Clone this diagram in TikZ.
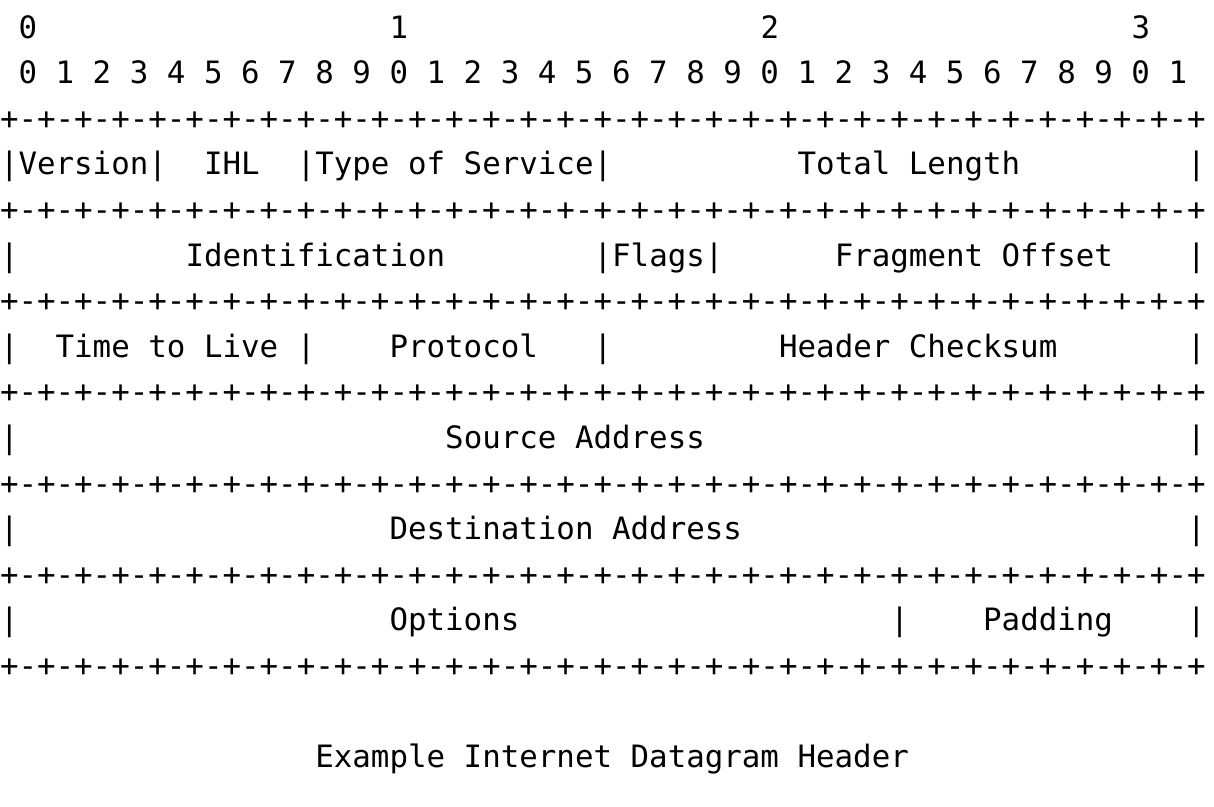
\documentclass[tikz,border=0pt]{standalone}
\usepackage{fontspec}
\setmonofont{DejaVu Sans Mono}[WordSpace={1,0,0}]
% one character cell is 18.55pt wide, text rows are 45.6pt apart
\newcommand\hdrcell[4]{\node[ascii] (#1) at ({#2*18.55},{-38-45.6*#3}) {#4};}
\newcommand\hdrpipes[2]{\foreach \c in {#2} {\node[ascii] (pipe-#1-\c) at ({\c*18.55},{-38-45.6*#1}) {|};}}
\begin{document}
\begin{tikzpicture}[x=1pt,y=1pt,
  ascii/.style={anchor=base west, inner sep=0pt, outer sep=0pt,
    font=\ttfamily\fontsize{30.81}{36}\selectfont}]
\useasboundingbox (0,0) rectangle (1214,-806);

% bit numbering
\hdrcell{tens0}{1}{0}{0}
\hdrcell{tens1}{21}{0}{1}
\hdrcell{tens2}{41}{0}{2}
\hdrcell{tens3}{61}{0}{3}
\hdrcell{units}{1}{1}{0 1 2 3 4 5 6 7 8 9 0 1 2 3 4 5 6 7 8 9 0 1 2 3 4 5 6 7 8 9 0 1}

% separator rows
\foreach \r in {2,4,6,8,10,12,14} {
  \node[ascii] (rule-\r) at (0,{-38-45.6*\r})
    {+-+-+-+-+-+-+-+-+-+-+-+-+-+-+-+-+-+-+-+-+-+-+-+-+-+-+-+-+-+-+-+-+};
}

% word 1
\hdrpipes{3}{0,8,16,32,64}
\hdrcell{version}{1}{3}{Version}
\hdrcell{ihl}{11}{3}{IHL}
\hdrcell{tos}{17}{3}{Type of Service}
\hdrcell{totlen}{43}{3}{Total Length}

% word 2
\hdrpipes{5}{0,32,38,64}
\hdrcell{ident}{10}{5}{Identification}
\hdrcell{flags}{33}{5}{Flags}
\hdrcell{fragoff}{45}{5}{Fragment Offset}

% word 3
\hdrpipes{7}{0,16,32,64}
\hdrcell{ttl}{3}{7}{Time to Live}
\hdrcell{proto}{21}{7}{Protocol}
\hdrcell{chksum}{42}{7}{Header Checksum}

% word 4
\hdrpipes{9}{0,64}
\hdrcell{src}{24}{9}{Source Address}

% word 5
\hdrpipes{11}{0,64}
\hdrcell{dst}{21}{11}{Destination Address}

% word 6
\hdrpipes{13}{0,48,64}
\hdrcell{opts}{21}{13}{Options}
\hdrcell{pad}{53}{13}{Padding}

% caption
\hdrcell{caption}{17}{16}{Example Internet Datagram Header}
\end{tikzpicture}
\end{document}
